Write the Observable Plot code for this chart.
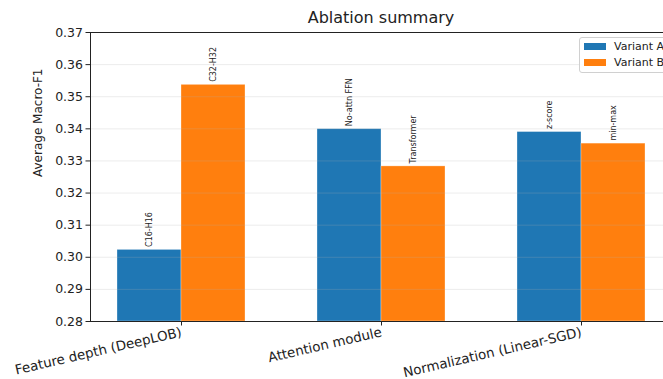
<!DOCTYPE html>
<html>
<head>
<meta charset="utf-8">
<script src="https://cdn.jsdelivr.net/npm/d3@7"></script>
<script src="https://cdn.jsdelivr.net/npm/@observablehq/plot@0.6"></script>
<style>
  html, body { margin: 0; padding: 0; background: #fff; }
  #wrap { position: relative; width: 663px; height: 379px; overflow: hidden; font-family: "DejaVu Sans", sans-serif; }
  #title { position: absolute; left: 0; width: 762px; top: 8px; text-align: center; font-size: 16px; color: #222; }
  #legend { position: absolute; left: 579px; top: 37px; width: 110px; height: 34px; border: 1px solid #d0d0d0; border-radius: 3px; background: rgba(255,255,255,0.85); font-size: 11px; color: #222; }
  .item { position: absolute; left: 4px; height: 16px; line-height: 16px; }
  .sw { display: inline-block; width: 22px; height: 7px; vertical-align: middle; margin-right: 8px; position: relative; top: -1px; }
  svg { display: block; }
</style>
</head>
<body>
<div id="wrap">
  <div id="chart"></div>
  <div id="title">Ablation summary</div>
  <div id="legend"></div>
</div>
<script>
const categories = ["Feature depth (DeepLOB)", "Attention module", "Normalization (Linear-SGD)"];
const series = ["Variant A", "Variant B"];
const variantA = [0.3023, 0.3399, 0.3390];
const variantB = [0.3537, 0.3283, 0.3354];
const labelsA = ["C16-H16", "No-attn FFN", "z-score"];
const labelsB = ["C32-H32", "Transformer", "min-max"];
const yTicks = [0.28, 0.29, 0.30, 0.31, 0.32, 0.33, 0.34, 0.35, 0.36, 0.37];
const colors = ["#1f77b4", "#ff7f0e"];

const barWidth = 0.32;
const rows = [];
categories.forEach((c, i) => {
  rows.push({i, series: series[0], value: variantA[i], label: labelsA[i], x1: i - barWidth, x2: i, xc: i - barWidth / 2});
  rows.push({i, series: series[1], value: variantB[i], label: labelsB[i], x1: i, x2: i + barWidth, xc: i + barWidth / 2});
});

const xDomain = [-0.455, 2.45];
const yDomain = [0.28, 0.37];

const plot = Plot.plot({
  width: 663,
  height: 379,
  marginTop: 32,
  marginBottom: 58,
  marginLeft: 90,
  marginRight: 0,
  style: {fontFamily: "DejaVu Sans, sans-serif", fontSize: "12px", color: "#222", background: "#fff"},
  x: {domain: xDomain, range: [90, 671], axis: null},
  y: {domain: yDomain, axis: null},
  color: {domain: series, range: colors},
  marks: [
    Plot.rectY(rows, {x1: "x1", x2: "x2", y1: yDomain[0], y2: "value", fill: "series", stroke: "#fff", strokeOpacity: 0.5, strokeWidth: 0.6}),
    Plot.ruleY(yTicks, {stroke: "#b0b0b0", strokeOpacity: 0.3, strokeWidth: 0.8}),
    Plot.text(rows, {x: "xc", y: "value", text: "label", rotate: -90, textAnchor: "start", lineAnchor: "middle", dy: -3, fontSize: 8, fill: "#222"}),
    Plot.axisY(yTicks, {anchor: "left", label: null, tickFormat: d3.format(".2f"), tickSize: 4.5, tickPadding: 3, fontSize: 12.5, stroke: "#222"}),
    Plot.axisX([0, 1, 2], {anchor: "bottom", label: null, tickFormat: i => categories[i], tickRotate: -13, tickSize: 4.5, tickPadding: 6, fontSize: 13.4, stroke: "#222"}),
    Plot.ruleY([yDomain[0], yDomain[1]], {x1: xDomain[0], x2: xDomain[1], stroke: "#222", strokeWidth: 1}),
    Plot.ruleX([xDomain[0]], {y1: yDomain[0], y2: yDomain[1], stroke: "#222", strokeWidth: 1}),
    Plot.text(["Average Macro-F1"], {frameAnchor: "left", rotate: -90, dx: -52, fontSize: 12, fill: "#222"})
  ]
});
document.getElementById("chart").appendChild(plot);

const legend = document.getElementById("legend");
series.forEach((s, k) => {
  const d = document.createElement("div");
  d.className = "item";
  d.style.top = (1 + k * 16) + "px";
  d.innerHTML = `<span class="sw" style="background:${colors[k]}"></span>${s}`;
  legend.appendChild(d);
});
</script>
</body>
</html>
